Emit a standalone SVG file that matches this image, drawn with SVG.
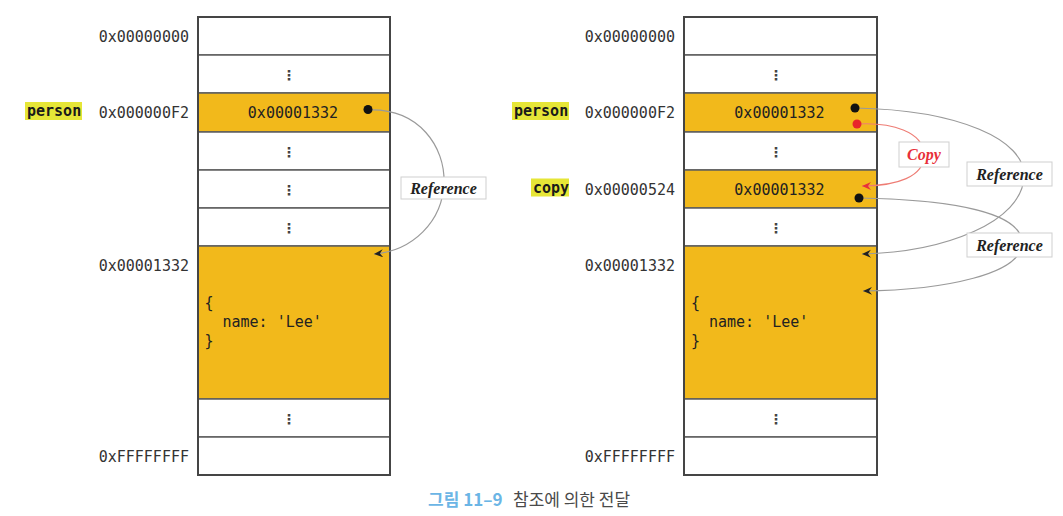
<svg xmlns="http://www.w3.org/2000/svg" width="1063" height="516" viewBox="0 0 1063 516">
<style>
.cell{fill:#fff;stroke:#5e5e5e;stroke-width:1.5}
.hot{fill:#F2B91B;stroke:#5e5e5e;stroke-width:1.5}
.frame{fill:none;stroke:#454545;stroke-width:2}
.addr{font-family:"DejaVu Sans Mono","Liberation Mono",monospace;font-size:15px;fill:#333;text-anchor:end}
.val{font-family:"DejaVu Sans Mono","Liberation Mono",monospace;font-size:15px;fill:#222}
.mid{text-anchor:middle}
.dots{font-family:"DejaVu Sans","DejaVu Sans Mono",sans-serif;font-size:14px;font-weight:bold;fill:#444;text-anchor:middle}
.var{font-family:"DejaVu Sans Mono","Liberation Mono",monospace;font-size:15px;font-weight:bold;fill:#1a1a1a}
.hl{fill:#E6E637}
.lbl{fill:#fff;stroke:#cfcfcf;stroke-width:1}
.ref{font-family:"Liberation Serif",serif;font-size:16px;font-weight:bold;font-style:italic;fill:#222;text-anchor:middle}
.cpy{font-family:"Liberation Serif",serif;font-size:16px;font-weight:bold;font-style:italic;fill:#E8303A;text-anchor:middle}
.arc{fill:none;stroke:#9a9a9a;stroke-width:1.2;marker-end:url(#ah)}
.arcr{fill:none;stroke:#EE7C74;stroke-width:1.1;marker-end:url(#ahr)}
.cap{font-family:"Noto Sans CJK KR",sans-serif;font-size:17px}
</style>
<defs>
<marker id="ah" markerUnits="userSpaceOnUse" markerWidth="10" markerHeight="9" refX="9" refY="4" orient="auto">
<path d="M0,0 L9,4 L0,8 L3,4 Z" fill="#222"/>
</marker>
<marker id="ahr" markerUnits="userSpaceOnUse" markerWidth="10" markerHeight="9" refX="9" refY="4" orient="auto">
<path d="M0,0 L9,4 L0,8 L3,4 Z" fill="#E8303A"/>
</marker>
</defs>
<rect width="1063" height="516" fill="#fff"/>

<g id="left-memory">
<rect class="cell" x="198" y="17" width="192" height="38"/>
<rect class="cell" x="198" y="55" width="192" height="38"/>
<rect class="hot" x="198" y="93" width="192" height="39"/>
<rect class="cell" x="198" y="132" width="192" height="38"/>
<rect class="cell" x="198" y="170" width="192" height="38"/>
<rect class="cell" x="198" y="208" width="192" height="38"/>
<rect class="hot" x="198" y="246" width="192" height="153"/>
<rect class="cell" x="198" y="399" width="192" height="38"/>
<rect class="cell" x="198" y="437" width="192" height="38"/>
<rect class="frame" x="198" y="17" width="192" height="458"/>
<text class="dots" x="289" y="79.5">⋮</text>
<text class="dots" x="289" y="156.5">⋮</text>
<text class="dots" x="289" y="194.5">⋮</text>
<text class="dots" x="289" y="232.5">⋮</text>
<text class="dots" x="289" y="423.5">⋮</text>
<text class="val mid" x="293" y="118">0x00001332</text>
<text class="val" x="204.5" y="308">{</text>
<text class="val" x="222.5" y="327">name: 'Lee'</text>
<text class="val" x="204.5" y="346">}</text>
</g>

<g id="left-addresses">
<text class="addr" x="189" y="42">0x00000000</text>
<text class="addr" x="189" y="118">0x000000F2</text>
<text class="addr" x="189" y="271">0x00001332</text>
<text class="addr" x="189" y="462">0xFFFFFFFF</text>
</g>

<g id="left-person">
<rect class="hl" x="25" y="102" width="57" height="18"/>
<text class="var" x="27" y="116">person</text>
</g>

<g id="right-memory">
<rect class="cell" x="684" y="17" width="193" height="38"/>
<rect class="cell" x="684" y="55" width="193" height="38"/>
<rect class="hot" x="684" y="93" width="193" height="39"/>
<rect class="cell" x="684" y="132" width="193" height="38"/>
<rect class="hot" x="684" y="170" width="193" height="38"/>
<rect class="cell" x="684" y="208" width="193" height="38"/>
<rect class="hot" x="684" y="246" width="193" height="153"/>
<rect class="cell" x="684" y="399" width="193" height="38"/>
<rect class="cell" x="684" y="437" width="193" height="38"/>
<rect class="frame" x="684" y="17" width="193" height="458"/>
<text class="dots" x="776" y="79.5">⋮</text>
<text class="dots" x="776" y="156.5">⋮</text>
<text class="dots" x="776" y="232.5">⋮</text>
<text class="dots" x="776" y="423.5">⋮</text>
<text class="val mid" x="779.5" y="118">0x00001332</text>
<text class="val mid" x="779.5" y="194.5">0x00001332</text>
<text class="val" x="691" y="308">{</text>
<text class="val" x="709" y="327">name: 'Lee'</text>
<text class="val" x="691" y="346">}</text>
</g>

<g id="right-addresses">
<text class="addr" x="675" y="42">0x00000000</text>
<text class="addr" x="675" y="118">0x000000F2</text>
<text class="addr" x="675" y="194.5">0x00000524</text>
<text class="addr" x="675" y="271">0x00001332</text>
<text class="addr" x="675" y="462">0xFFFFFFFF</text>
</g>

<g id="right-person">
<rect class="hl" x="512" y="102" width="57" height="18"/>
<text class="var" x="514" y="116">person</text>
</g>

<g id="right-copy">
<rect class="hl" x="531" y="178.5" width="38" height="18"/>
<text class="var" x="533" y="192.5">copy</text>
</g>

<g id="connectors">
<path class="arc" d="M368,110 C420,108 445,148 444,182 C443,222 412,251 374,254"/>
<path class="arc" d="M855,108 C960,110 1025,140 1024,176 C1023,222 945,252 862,254"/>
<path class="arcr" d="M857,124 C892,122 923,132 924,154 C925,177 896,186 862,186"/>
<path class="arc" d="M859,198 C960,200 1022,214 1022,243 C1022,274 945,290 863,291"/>
<circle cx="368" cy="109.5" r="4.5" fill="#111"/>
<circle cx="855" cy="108" r="4.5" fill="#111"/>
<circle cx="857" cy="124" r="4.5" fill="#E8262A"/>
<circle cx="859" cy="198" r="4.5" fill="#111"/>
</g>

<g id="label-ref-left">
<rect class="lbl" x="401" y="177" width="85" height="22"/>
<text class="ref" x="443.5" y="193.5">Reference</text>
</g>
<g id="label-copy">
<rect class="lbl" x="899" y="142" width="50" height="25"/>
<text class="cpy" x="924" y="160">Copy</text>
</g>
<g id="label-ref-right1">
<rect class="lbl" x="967" y="162" width="85" height="24"/>
<text class="ref" x="1009.5" y="179.5">Reference</text>
</g>
<g id="label-ref-right2">
<rect class="lbl" x="967" y="233" width="85" height="24"/>
<text class="ref" x="1009.5" y="250.5">Reference</text>
</g>

<g id="caption">
<text class="cap" x="428" y="506" font-weight="bold" fill="#6BB5E5">그림 11–9</text>
<text class="cap" x="513" y="506" fill="#4a4a4a">참조에 의한 전달</text>
</g>
</svg>
